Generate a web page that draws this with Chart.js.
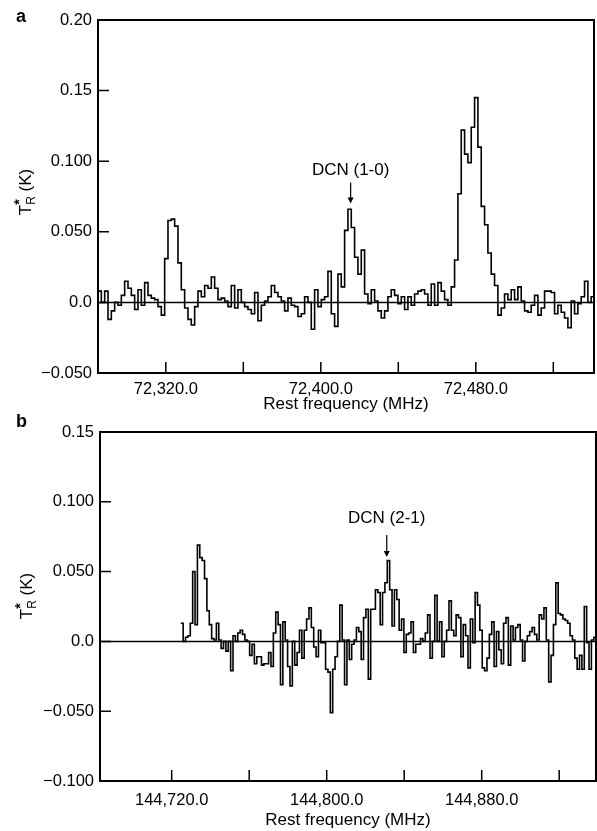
<!DOCTYPE html>
<html><head><meta charset="utf-8">
<script src="https://cdn.jsdelivr.net/npm/chart.js@4/dist/chart.umd.min.js"></script>
<style>
html,body{margin:0;padding:0;background:#fff;}
#wrap{position:relative;width:597px;height:831px;overflow:hidden;background:#fff;}
canvas{position:absolute;left:0;}
#ca{top:0;} #cb{top:400px;}
</style></head><body>
<div id="wrap"><canvas id="ca" width="597" height="415"></canvas><canvas id="cb" width="597" height="431"></canvas></div>
<script>
// ---------- Panel a : DCN (1-0) spectrum ----------
const freqStartA = 72285;      // MHz, first channel left edge
const chanWidthA = 1.72;       // MHz per channel
const valuesA = [
  0.008, 0.000, 0.008, -0.012, -0.006, 0.000, -0.002, 0.005, 0.015, 0.010,
  0.005, -0.005, 0.009, -0.002, 0.014, 0.005, 0.003, 0.002, -0.003, -0.009,
  0.031, 0.058, 0.059, 0.054, 0.028, 0.009, -0.004, -0.012, -0.016, -0.003,
  0.008, 0.004, 0.012, 0.010, 0.018, 0.010, 0.002, 0.003, 0.001, -0.003,
  0.012, -0.004, 0.009, 0.000, -0.003, -0.005, -0.008, 0.007, -0.013, -0.002,
  0.001, 0.004, 0.012, 0.007, 0.004, 0.001, -0.006, 0.003, -0.002, -0.003,
  -0.010, -0.008, 0.004, 0.000, -0.019, 0.009, -0.003, 0.002, 0.004, 0.022,
  -0.008, -0.017, 0.020, 0.011,
  0.051, 0.066, 0.053, 0.032, 0.020, 0.037, 0.006, -0.001, 0.009, 0.001,
  -0.006, -0.011, -0.006, 0.004, 0.009, 0.005, -0.001, 0.004, -0.005, 0.004,
  -0.002, 0.006, 0.008, 0.009, 0.006, -0.002, 0.013, -0.002, 0.014, 0.008,
  0.002, -0.002, 0.011, 0.030, 0.077, 0.122, 0.105, 0.099, 0.124, 0.145,
  0.110, 0.068, 0.055, 0.035, 0.020, 0.012, -0.009, -0.004, 0.006, 0.002,
  0.009, 0.002, 0.011, 0.001, -0.006, -0.007, -0.002, 0.005, -0.009, -0.004,
  0.008, 0.008, 0.007, -0.008, -0.002, -0.007, -0.011, -0.018, 0.001, -0.008,
  -0.001, 0.004, 0.015, 0.000, 0.004
];
const xRangeA = [72285, 72541];
const yRangeA = [-0.05, 0.20];
const xTicksA = [72320, 72360, 72400, 72440, 72480, 72520];
const xTickLabelsA = ['72,320.0', '', '72,400.0', '', '72,480.0', ''];
const yTicksA = [-0.05, 0, 0.05, 0.10, 0.15, 0.20];
const yTickLabelsA = ['\u22120.050', '0.0', '0.050', '0.100', '0.15', '0.20'];
const lineNameA = 'DCN (1-0)';
const lineFreqA = 72415.4;

// ---------- Panel b : DCN (2-1) spectrum ----------
const freqStartB = 144724.7;
const chanWidthB = 1.225;
const valuesB = [
  0.013, 0.000, 0.003, 0.004, 0.013, 0.050, 0.012, 0.069, 0.060, 0.058,
  0.045, 0.022, 0.012, 0.002, 0.001, 0.013, 0.001, -0.005, 0.000, -0.007,
  0.000, -0.021, 0.004, 0.000, 0.006, 0.008, 0.005, 0.001, 0.000, -0.010,
  -0.002, -0.016, -0.011, -0.011, -0.017, -0.016, -0.016, -0.008, -0.018, 0.006,
  0.021, 0.012, -0.031, 0.014, 0.001, -0.018, -0.032, 0.000, -0.017, -0.008,
  0.008, -0.012, 0.008, 0.016, 0.024, 0.010, -0.004, -0.011, 0.008, -0.001,
  -0.001, -0.020, -0.022, -0.051, -0.020, -0.011, 0.000, 0.026, 0.001, -0.031,
  0.001, -0.013,
  -0.002, 0.001, 0.010, 0.007, -0.013, 0.017, 0.023, -0.027,
  0.023, 0.023, 0.037, 0.035, 0.012, 0.035, 0.042, 0.058, 0.037, 0.011,
  0.037, 0.030, 0.008, 0.016, -0.008, 0.005, 0.006, 0.014, -0.008, -0.002,
  -0.002, 0.002, 0.000, 0.006, 0.019, -0.012, 0.000, 0.033, 0.000, 0.014,
  -0.011, 0.000, 0.008, 0.029, 0.008, 0.004, 0.019, 0.017, -0.011, 0.012,
  0.004, -0.019, 0.016, -0.001, 0.035, 0.026, 0.008, -0.019, -0.021, -0.012,
  0.005, 0.014, -0.018, 0.007, -0.006, -0.016, 0.013, 0.017, -0.017, 0.011,
  0.001, 0.010, 0.012, 0.001, -0.014, 0.000, 0.004, 0.007, 0.010, 0.005, 0.001,
  0.019, 0.016, 0.024, 0.001, -0.029, -0.010, 0.012, 0.042, 0.020, 0.019,
  0.016, 0.015, 0.013, 0.004, 0.001, -0.012, -0.020, -0.010, -0.020, 0.025,
  -0.001, -0.020, 0.001, 0.003
];
const xRangeB = [144683, 144939];
const yRangeB = [-0.10, 0.15];
const xTicksB = [144720, 144760, 144800, 144840, 144880, 144920];
const xTickLabelsB = ['144,720.0', '', '144,800.0', '', '144,880.0', ''];
const yTicksB = [-0.10, -0.05, 0, 0.05, 0.10, 0.15];
const yTickLabelsB = ['\u22120.100', '\u22120.050', '0.0', '0.050', '0.100', '0.15'];
const lineNameB = 'DCN (2-1)';
const lineFreqB = 144831.0;

const xTitle = 'Rest frequency (MHz)';
const FONT = '"Liberation Sans", Arial, Helvetica, sans-serif';

function stepPoints(start, width, vals) {
  const pts = vals.map((v, i) => ({x: start + i * width, y: v}));
  pts.push({x: start + vals.length * width, y: vals[vals.length - 1]});
  return pts;
}

function makePanel(canvas, cfg) {
  const deco = {
    id: 'deco',
    beforeDatasetsDraw(chart) {
      const {ctx, chartArea: ca, scales: {x, y}} = chart;
      ctx.save();
      ctx.strokeStyle = '#000';
      ctx.lineWidth = 1.5;
      const y0 = y.getPixelForValue(0);
      ctx.beginPath(); ctx.moveTo(ca.left, y0); ctx.lineTo(ca.right, y0); ctx.stroke();
      ctx.restore();
    },
    afterDraw(chart) {
      const {ctx, chartArea: ca, scales: {x, y}} = chart;
      ctx.save();
      ctx.strokeStyle = '#000';
      ctx.fillStyle = '#000';
      ctx.lineWidth = 2;
      ctx.strokeRect(ca.left, ca.top, ca.right - ca.left, ca.bottom - ca.top);
      ctx.lineWidth = 1.5;
      ctx.beginPath();
      cfg.yTicks.forEach(v => {
        const p = y.getPixelForValue(v);
        ctx.moveTo(ca.left, p); ctx.lineTo(ca.left + 11, p);
      });
      cfg.xTicks.forEach(v => {
        const p = x.getPixelForValue(v);
        ctx.moveTo(p, ca.bottom); ctx.lineTo(p, ca.bottom - 11);
      });
      ctx.stroke();
      const lx = x.getPixelForValue(cfg.lineFreq);
      ctx.font = '17px ' + FONT;
      ctx.textAlign = 'center';
      ctx.textBaseline = 'middle';
      ctx.fillText(cfg.lineName, lx, y.getPixelForValue(cfg.labelVal));
      const a0 = y.getPixelForValue(cfg.arrowFrom), a1 = y.getPixelForValue(cfg.arrowTo);
      ctx.lineWidth = 1.2;
      ctx.beginPath(); ctx.moveTo(lx, a0); ctx.lineTo(lx, a1 - 5); ctx.stroke();
      ctx.beginPath(); ctx.moveTo(lx - 3, a1 - 6); ctx.lineTo(lx + 3, a1 - 6); ctx.lineTo(lx, a1); ctx.closePath(); ctx.fill();
      ctx.font = 'bold 18px ' + FONT;
      ctx.textAlign = 'left';
      ctx.textBaseline = 'alphabetic';
      ctx.fillText(cfg.letter, cfg.letterX, cfg.letterY);
      ctx.translate(cfg.yTitleX, cfg.yTitleY);
      ctx.rotate(-Math.PI / 2);
      const big = '17px ' + FONT, small = '12px ' + FONT;
      ctx.font = big;
      const wT = ctx.measureText('T').width, wK = ctx.measureText(' (K)').width;
      ctx.font = small;
      const wR = ctx.measureText('R').width;
      let tx = -(wT + wR + wK) / 2;
      ctx.font = big; ctx.fillText('T', tx, 0); tx += wT;
      ctx.font = 'bold 14px ' + FONT; ctx.fillText('*', tx, -7);
      ctx.font = small; ctx.fillText('R', tx, 4); tx += wR;
      ctx.font = big; ctx.fillText(' (K)', tx, 0);
      ctx.restore();
    }
  };

  return new Chart(canvas, {
    type: 'line',
    data: {
      datasets: [{
        data: stepPoints(cfg.start, cfg.width, cfg.values),
        borderColor: '#000',
        borderWidth: 1.6,
        pointRadius: 0,
        fill: false,
        stepped: true,
        tension: 0
      }]
    },
    options: {
      responsive: false,
      animation: false,
      events: [],
      layout: {padding: {top: cfg.padTop, right: cfg.padRight, left: 0, bottom: 0}},
      plugins: {legend: {display: false}, tooltip: {enabled: false}},
      scales: {
        x: {
          type: 'linear', min: cfg.xRange[0], max: cfg.xRange[1],
          grid: {display: false, drawTicks: false},
          border: {display: false},
          ticks: {
            autoSkip: false, maxRotation: 0, padding: cfg.xPad, color: '#000',
            font: {family: FONT, size: 16.5},
            callback: (v, i) => cfg.xTickLabels[i]
          },
          title: {display: true, text: xTitle, color: '#000', font: {family: FONT, size: 17}, padding: {top: 0, bottom: 0}},
          afterBuildTicks: s => { s.ticks = cfg.xTicks.map(v => ({value: v})); },
          afterFit: s => { s.height = cfg.xH; }
        },
        y: {
          type: 'linear', min: cfg.yRange[0], max: cfg.yRange[1],
          grid: {display: false, drawTicks: false},
          border: {display: false},
          ticks: {
            padding: 6, color: '#000', font: {family: FONT, size: 16.5},
            callback: (v, i) => cfg.yTickLabels[i]
          },
          afterBuildTicks: s => { s.ticks = cfg.yTicks.map(v => ({value: v})); },
          afterFit: s => { s.width = cfg.yW; }
        }
      }
    },
    plugins: [deco]
  });
}

makePanel(document.getElementById('ca'), {
  start: freqStartA, width: chanWidthA, values: valuesA,
  xRange: xRangeA, yRange: yRangeA, xTicks: xTicksA, xTickLabels: xTickLabelsA,
  yTicks: yTicksA, yTickLabels: yTickLabelsA,
  lineName: lineNameA, lineFreq: lineFreqA, labelVal: 0.0936, arrowFrom: 0.085, arrowTo: 0.070,
  padTop: 20, padRight: 3, yW: 98, xH: 42, xPad: 7,
  letter: 'a', letterX: 16, letterY: 22, yTitleX: 31, yTitleY: 192
});
makePanel(document.getElementById('cb'), {
  start: freqStartB, width: chanWidthB, values: valuesB,
  xRange: xRangeB, yRange: yRangeB, xTicks: xTicksB, xTickLabels: xTickLabelsB,
  yTicks: yTicksB, yTickLabels: yTickLabelsB,
  lineName: lineNameB, lineFreq: lineFreqB, labelVal: 0.0884, arrowFrom: 0.0762, arrowTo: 0.0605,
  padTop: 32, padRight: 1, yW: 100, xH: 50, xPad: 10,
  letter: 'b', letterX: 16, letterY: 27, yTitleX: 32, yTitleY: 196
});
</script>
</body></html>
